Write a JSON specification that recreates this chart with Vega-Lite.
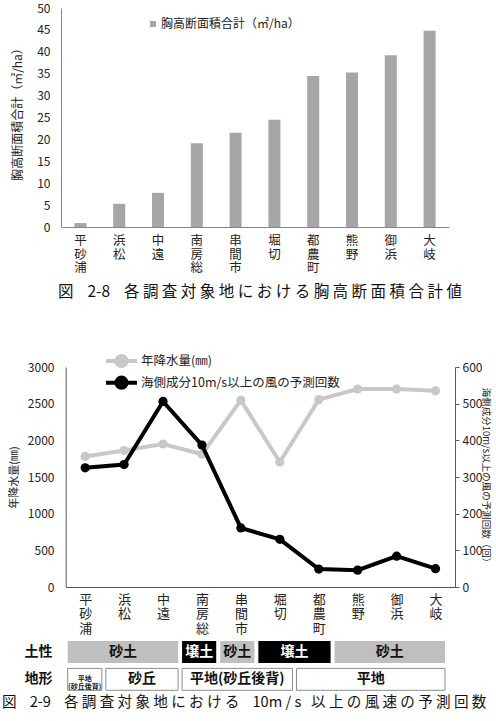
{
  "$schema": "https://vega.github.io/schema/vega-lite/v6.json",
  "padding": {"left": 2, "top": 2, "right": 3, "bottom": 4},
  "autosize": {"type": "pad"},
  "background": "white",
  "config": {
    "font": "Noto Sans CJK JP",
    "view": {"stroke": null},
    "axis": {"labelColor": "#222222", "titleColor": "#222222", "titleFontWeight": "normal", "grid": false, "labelOverlap": false, "labelFlush": false},
    "legend": {"labelColor": "#222222", "padding": 0, "labelLimit": 0},
    "title": {"fontWeight": "normal", "color": "#111111"}
  },
  "datasets": {
    "basal": [
      {"site": "平砂浦", "ba": 0.9},
      {"site": "浜松", "ba": 5.3},
      {"site": "中遠", "ba": 7.8},
      {"site": "南房総", "ba": 19.1},
      {"site": "串間市", "ba": 21.5},
      {"site": "堀切", "ba": 24.5},
      {"site": "都農町", "ba": 34.5},
      {"site": "熊野", "ba": 35.3},
      {"site": "御浜", "ba": 39.2},
      {"site": "大岐", "ba": 44.8}
    ],
    "climate": [
      {"site": "平砂浦", "precip": 1780, "wind": 325},
      {"site": "浜松", "precip": 1860, "wind": 334},
      {"site": "中遠", "precip": 1950, "wind": 506},
      {"site": "南房総", "precip": 1810, "wind": 387},
      {"site": "串間市", "precip": 2545, "wind": 161},
      {"site": "堀切", "precip": 1705, "wind": 130},
      {"site": "都農町", "precip": 2555, "wind": 49},
      {"site": "熊野", "precip": 2700, "wind": 46},
      {"site": "御浜", "precip": 2700, "wind": 84},
      {"site": "大岐", "precip": 2675, "wind": 50}
    ],
    "terrain": [
      {"row": "土性", "id": "s1", "label": "砂土", "start": 0, "end": 3},
      {"row": "土性", "id": "s2", "label": "壌土", "start": 3, "end": 4},
      {"row": "土性", "id": "s3", "label": "砂土", "start": 4, "end": 5},
      {"row": "土性", "id": "s4", "label": "壌土", "start": 5, "end": 7},
      {"row": "土性", "id": "s5", "label": "砂土", "start": 7, "end": 10},
      {"row": "地形", "id": "t1", "label": "平地\n(砂丘後背)", "start": 0, "end": 1},
      {"row": "地形", "id": "t2", "label": "砂丘", "start": 1, "end": 3},
      {"row": "地形", "id": "t3", "label": "平地(砂丘後背)", "start": 3, "end": 6},
      {"row": "地形", "id": "t4", "label": "平地", "start": 6, "end": 10}
    ]
  },
  "title": {
    "text": "図\u00a0\u00a0\u00a0\u00a02-9\u00a0\u00a0\u00a0\u00a0各 調 査 対 象 地 に お け る\u00a0\u00a0\u00a0\u00a010m / s\u00a0\u00a0\u00a0以 上 の 風 速 の 予 測 回 数",
    "orient": "bottom", "anchor": "start", "frame": "group", "dx": -59, "offset": 4, "fontSize": 14.6
  },
  "bounds": "flush",
  "spacing": 54,
  "resolve": {"scale": {"color": "independent"}, "legend": {"color": "independent"}},
  "vconcat": [
    {
      "width": 388,
      "height": 305,
      "data": {"name": "basal"},
      "title": {
        "text": "図\u00a0\u00a0\u00a0\u00a02-8\u00a0\u00a0\u00a0\u00a0各 調 査 対 象 地 に お け る 胸 高 断 面 積 合 計 値",
        "orient": "bottom", "anchor": "middle", "frame": "group", "offset": -28.5, "dx": 5, "fontSize": 15.5
      },
      "mark": {"type": "bar"},
      "encoding": {
        "x": {
          "field": "site", "type": "nominal", "sort": null,
          "scale": {"paddingInner": 0.69, "paddingOuter": 0.345},
          "axis": {"title": null, "labelAngle": 0, "labelExpr": "split(datum.label, '')", "labelLineHeight": 13.5, "labelFontSize": 12.5, "labelPadding": 7.5, "labelBaseline": "top", "ticks": false, "tickSize": 0, "domainColor": "#868686", "offset": -86}
        },
        "y": {
          "field": "ba", "type": "quantitative",
          "scale": {"domain": [0, 50], "range": [219, 0], "nice": false},
          "axis": {"values": [0, 5, 10, 15, 20, 25, 30, 35, 40, 45, 50], "format": "d", "ticks": false, "tickSize": 0, "labelFontSize": 12, "labelPadding": 11, "domainColor": "#868686", "title": "胸高断面積合計（㎡/ha）", "titleFontSize": 12, "titlePadding": 12, "titleY": 103}
        },
        "color": {
          "datum": "胸高断面積合計（㎡/ha）", "type": "nominal",
          "scale": {"range": ["#a6a6a6"]},
          "legend": {"title": null, "orient": "none", "legendX": 86, "legendY": 10, "symbolType": "square", "symbolSize": 36, "symbolStrokeWidth": 0, "labelFontSize": 12, "labelOffset": 2}
        }
      }
    },
    {
      "width": 394,
      "height": 220,
      "data": {"name": "climate"},
      "encoding": {
        "x": {
          "field": "site", "type": "nominal", "sort": null,
          "scale": {"type": "point", "range": [4.7, 394], "padding": 0.5},
          "axis": {"title": null, "labelAngle": 0, "labelExpr": "split(datum.label, '')", "labelLineHeight": 14.8, "labelFontSize": 13, "labelPadding": 6, "labelBaseline": "top", "ticks": false, "tickSize": 0, "domainColor": "#595959"}
        }
      },
      "layer": [
        {
          "encoding": {
            "y": {
              "field": "precip", "type": "quantitative",
              "scale": {"domain": [0, 3000], "nice": false},
              "axis": {"orient": "left", "offset": -4.7, "values": [0, 500, 1000, 1500, 2000, 2500, 3000], "format": "d", "ticks": false, "tickSize": 0, "labelPadding": 11.7, "labelFontSize": 12, "domainColor": "#595959", "title": "年降水量(㎜)", "titleFontSize": 11, "titlePadding": 8}
            },
            "color": {
              "datum": "年降水量(㎜)", "type": "nominal",
              "scale": {"range": ["#c8c8c8"]},
              "legend": {
                "title": null, "orient": "none", "legendX": 43, "legendY": -23.5,
                "symbolType": "M-1,0L1,0M-0.33,0A0.33,0.33,0,1,1,0.33,0A0.33,0.33,0,1,1,-0.33,0Z",
                "symbolSize": 961, "symbolStrokeWidth": 4, "labelFontSize": 12.5, "labelOffset": 2,
                "encode": {"symbols": {"update": {"fill": {"value": "#c8c8c8"}, "stroke": {"value": "#c8c8c8"}, "strokeWidth": {"value": 4}, "opacity": {"value": 1}}}}
              }
            }
          },
          "layer": [
            {"mark": {"type": "line", "strokeWidth": 4}},
            {"mark": {"type": "point", "filled": true, "size": 85, "opacity": 1}}
          ]
        },
        {
          "encoding": {
            "y": {
              "field": "wind", "type": "quantitative",
              "scale": {"domain": [0, 600], "nice": false},
              "axis": {"orient": "right", "values": [0, 100, 200, 300, 400, 500, 600], "format": "d", "ticks": true, "tickSize": 4, "tickColor": "#595959", "labelPadding": 3, "labelFontSize": 12, "domainColor": "#595959", "title": "海側成分10m/s以上の風の予測回数（回）", "titleFontSize": 9.5, "titlePadding": -1}
            },
            "color": {
              "datum": "海側成分10m/s以上の風の予測回数", "type": "nominal",
              "scale": {"range": ["#000000"]},
              "legend": {
                "title": null, "orient": "none", "legendX": 43, "legendY": -1.8,
                "symbolType": "M-1,0L1,0M-0.33,0A0.33,0.33,0,1,1,0.33,0A0.33,0.33,0,1,1,-0.33,0Z",
                "symbolSize": 961, "symbolStrokeWidth": 4, "labelFontSize": 12.5, "labelOffset": 2,
                "encode": {"symbols": {"update": {"fill": {"value": "#000000"}, "stroke": {"value": "#000000"}, "strokeWidth": {"value": 4}, "opacity": {"value": 1}}}}
              }
            }
          },
          "layer": [
            {"mark": {"type": "line", "strokeWidth": 4}},
            {"mark": {"type": "point", "filled": true, "size": 85, "opacity": 1}}
          ]
        }
      ],
      "resolve": {"scale": {"y": "independent", "color": "independent"}, "legend": {"color": "independent"}}
    },
    {
      "width": 394,
      "height": 49.3,
      "data": {"name": "terrain"},
      "encoding": {
        "y": {
          "field": "row", "type": "nominal", "sort": ["土性", "地形"],
          "scale": {"paddingInner": 0.2, "paddingOuter": 0},
          "axis": {"title": null, "domain": false, "ticks": false, "tickSize": 0, "labelFontSize": 14, "labelFontWeight": "bold", "labelPadding": 9, "labelColor": "#111111"}
        }
      },
      "layer": [
        {
          "transform": [{"filter": "datum.row === '土性'"}],
          "mark": {"type": "rect", "xOffset": 2, "x2Offset": -2},
          "encoding": {
            "x": {"field": "start", "type": "quantitative", "scale": {"domain": [0, 10], "range": [4.7, 386]}, "axis": null},
            "x2": {"field": "end"},
            "color": {"field": "label", "type": "nominal", "scale": {"domain": ["砂土", "壌土"], "range": ["#bfbfbf", "#000000"]}, "legend": null}
          }
        },
        {
          "transform": [{"filter": "datum.row === '地形'"}],
          "mark": {"type": "rect", "fill": "#ffffff", "stroke": "#8c8c8c", "strokeWidth": 1, "xOffset": 2, "x2Offset": -2},
          "encoding": {
            "x": {"field": "start", "type": "quantitative", "scale": {"domain": [0, 10], "range": [4.7, 386]}, "axis": null},
            "x2": {"field": "end"}
          }
        },
        {
          "transform": [{"fold": ["start", "end"], "as": ["edge", "pos"]}],
          "mark": {"type": "text", "fontWeight": "bold", "lineBreak": "\n", "lineHeight": 8},
          "encoding": {
            "x": {"field": "pos", "aggregate": "mean", "type": "quantitative", "scale": {"domain": [0, 10], "range": [4.7, 386]}, "axis": null},
            "text": {"field": "label", "type": "nominal"},
            "detail": {"field": "id", "type": "nominal"},
            "color": {"condition": {"test": "datum.label === '壌土'", "value": "#ffffff"}, "value": "#111111"},
            "size": {"condition": {"test": "datum.id === 't1'", "value": 7}, "value": 14}
          }
        }
      ]
    }
  ]
}
